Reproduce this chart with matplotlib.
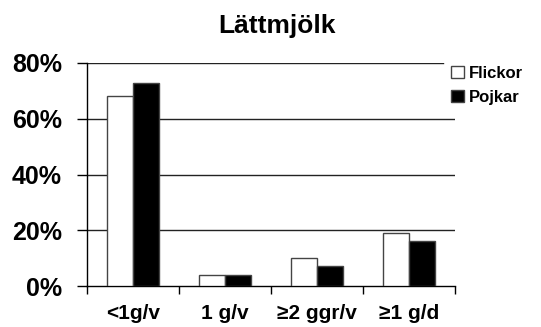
import matplotlib
matplotlib.use("Agg")
import matplotlib.pyplot as plt
import numpy as np

plt.rcParams['font.family'] = ['Liberation Sans', 'DejaVu Sans']
plt.rcParams['font.weight'] = 'bold'

title = "Lättmjölk"
categories = ["<1g/v", "1 g/v", "≥2 ggr/v", "≥1 g/d"]
series_names = ["Flickor", "Pojkar"]
flickor = [68, 4, 10, 19]
pojkar = [73, 4, 7, 16]
yticks = [0, 20, 40, 60, 80]
ytick_labels = ["0%", "20%", "40%", "60%", "80%"]

W, H = 541, 327
fig = plt.figure(figsize=(W / 100, H / 100), dpi=100, facecolor="white")
ax = fig.add_axes([87 / W, 1 - 286 / H, (455 - 87) / W, (286 - 63) / H])

x = np.arange(len(categories))
bw = 0.288
b1 = ax.bar(x - bw / 2, flickor, bw, color="white", edgecolor="#444444", linewidth=1.0, zorder=3, label=series_names[0])
b2 = ax.bar(x + bw / 2, pojkar, bw, color="black", edgecolor="#444444", linewidth=1.0, zorder=3, label=series_names[1])

ax.set_xlim(-0.5, len(categories) - 0.5)
ax.set_ylim(0, 80)

# horizontal gridlines
for v in yticks[1:]:
    xmax = 0.967 if v == yticks[-1] else 1.0
    ax.axhline(v, xmin=0, xmax=xmax, color="#222222", linewidth=1.0, zorder=1)

for side in ["top", "right"]:
    ax.spines[side].set_visible(False)
ax.spines["left"].set_color("black")
ax.spines["bottom"].set_color("black")
ax.spines["left"].set_linewidth(1.0)
ax.spines["bottom"].set_linewidth(1.0)

ax.set_yticks(yticks)
ax.set_yticklabels(ytick_labels, fontsize=18, fontweight="bold")
ax.tick_params(axis="y", direction="out", length=7, width=1, pad=11)

# category boundaries as major ticks, labels on minor ticks
ax.set_xticks(np.arange(-0.5, len(categories), 1.0))
ax.set_xticklabels([])
ax.tick_params(axis="x", which="major", direction="out", length=6, width=1)
ax.set_xticks(x, minor=True)
ax.set_xticklabels(categories, minor=True, fontsize=15, fontweight="bold")
ax.tick_params(axis="x", which="minor", length=0, pad=13)

fig.text(277 / W, 1 - 26 / H, title, ha="center", va="center", fontsize=19, fontweight="bold")

ax.legend(handles=[b1, b2], labels=series_names, loc="upper left",
          bbox_to_anchor=(451 / W, 1 - 66 / H), bbox_transform=fig.transFigure,
          frameon=False, prop={"weight": "bold", "size": 12},
          handlelength=0.75, handleheight=0.75, handletextpad=0.35,
          labelspacing=0.55, borderaxespad=0, borderpad=0)

fig.savefig("out.png", dpi=100, facecolor="white")
